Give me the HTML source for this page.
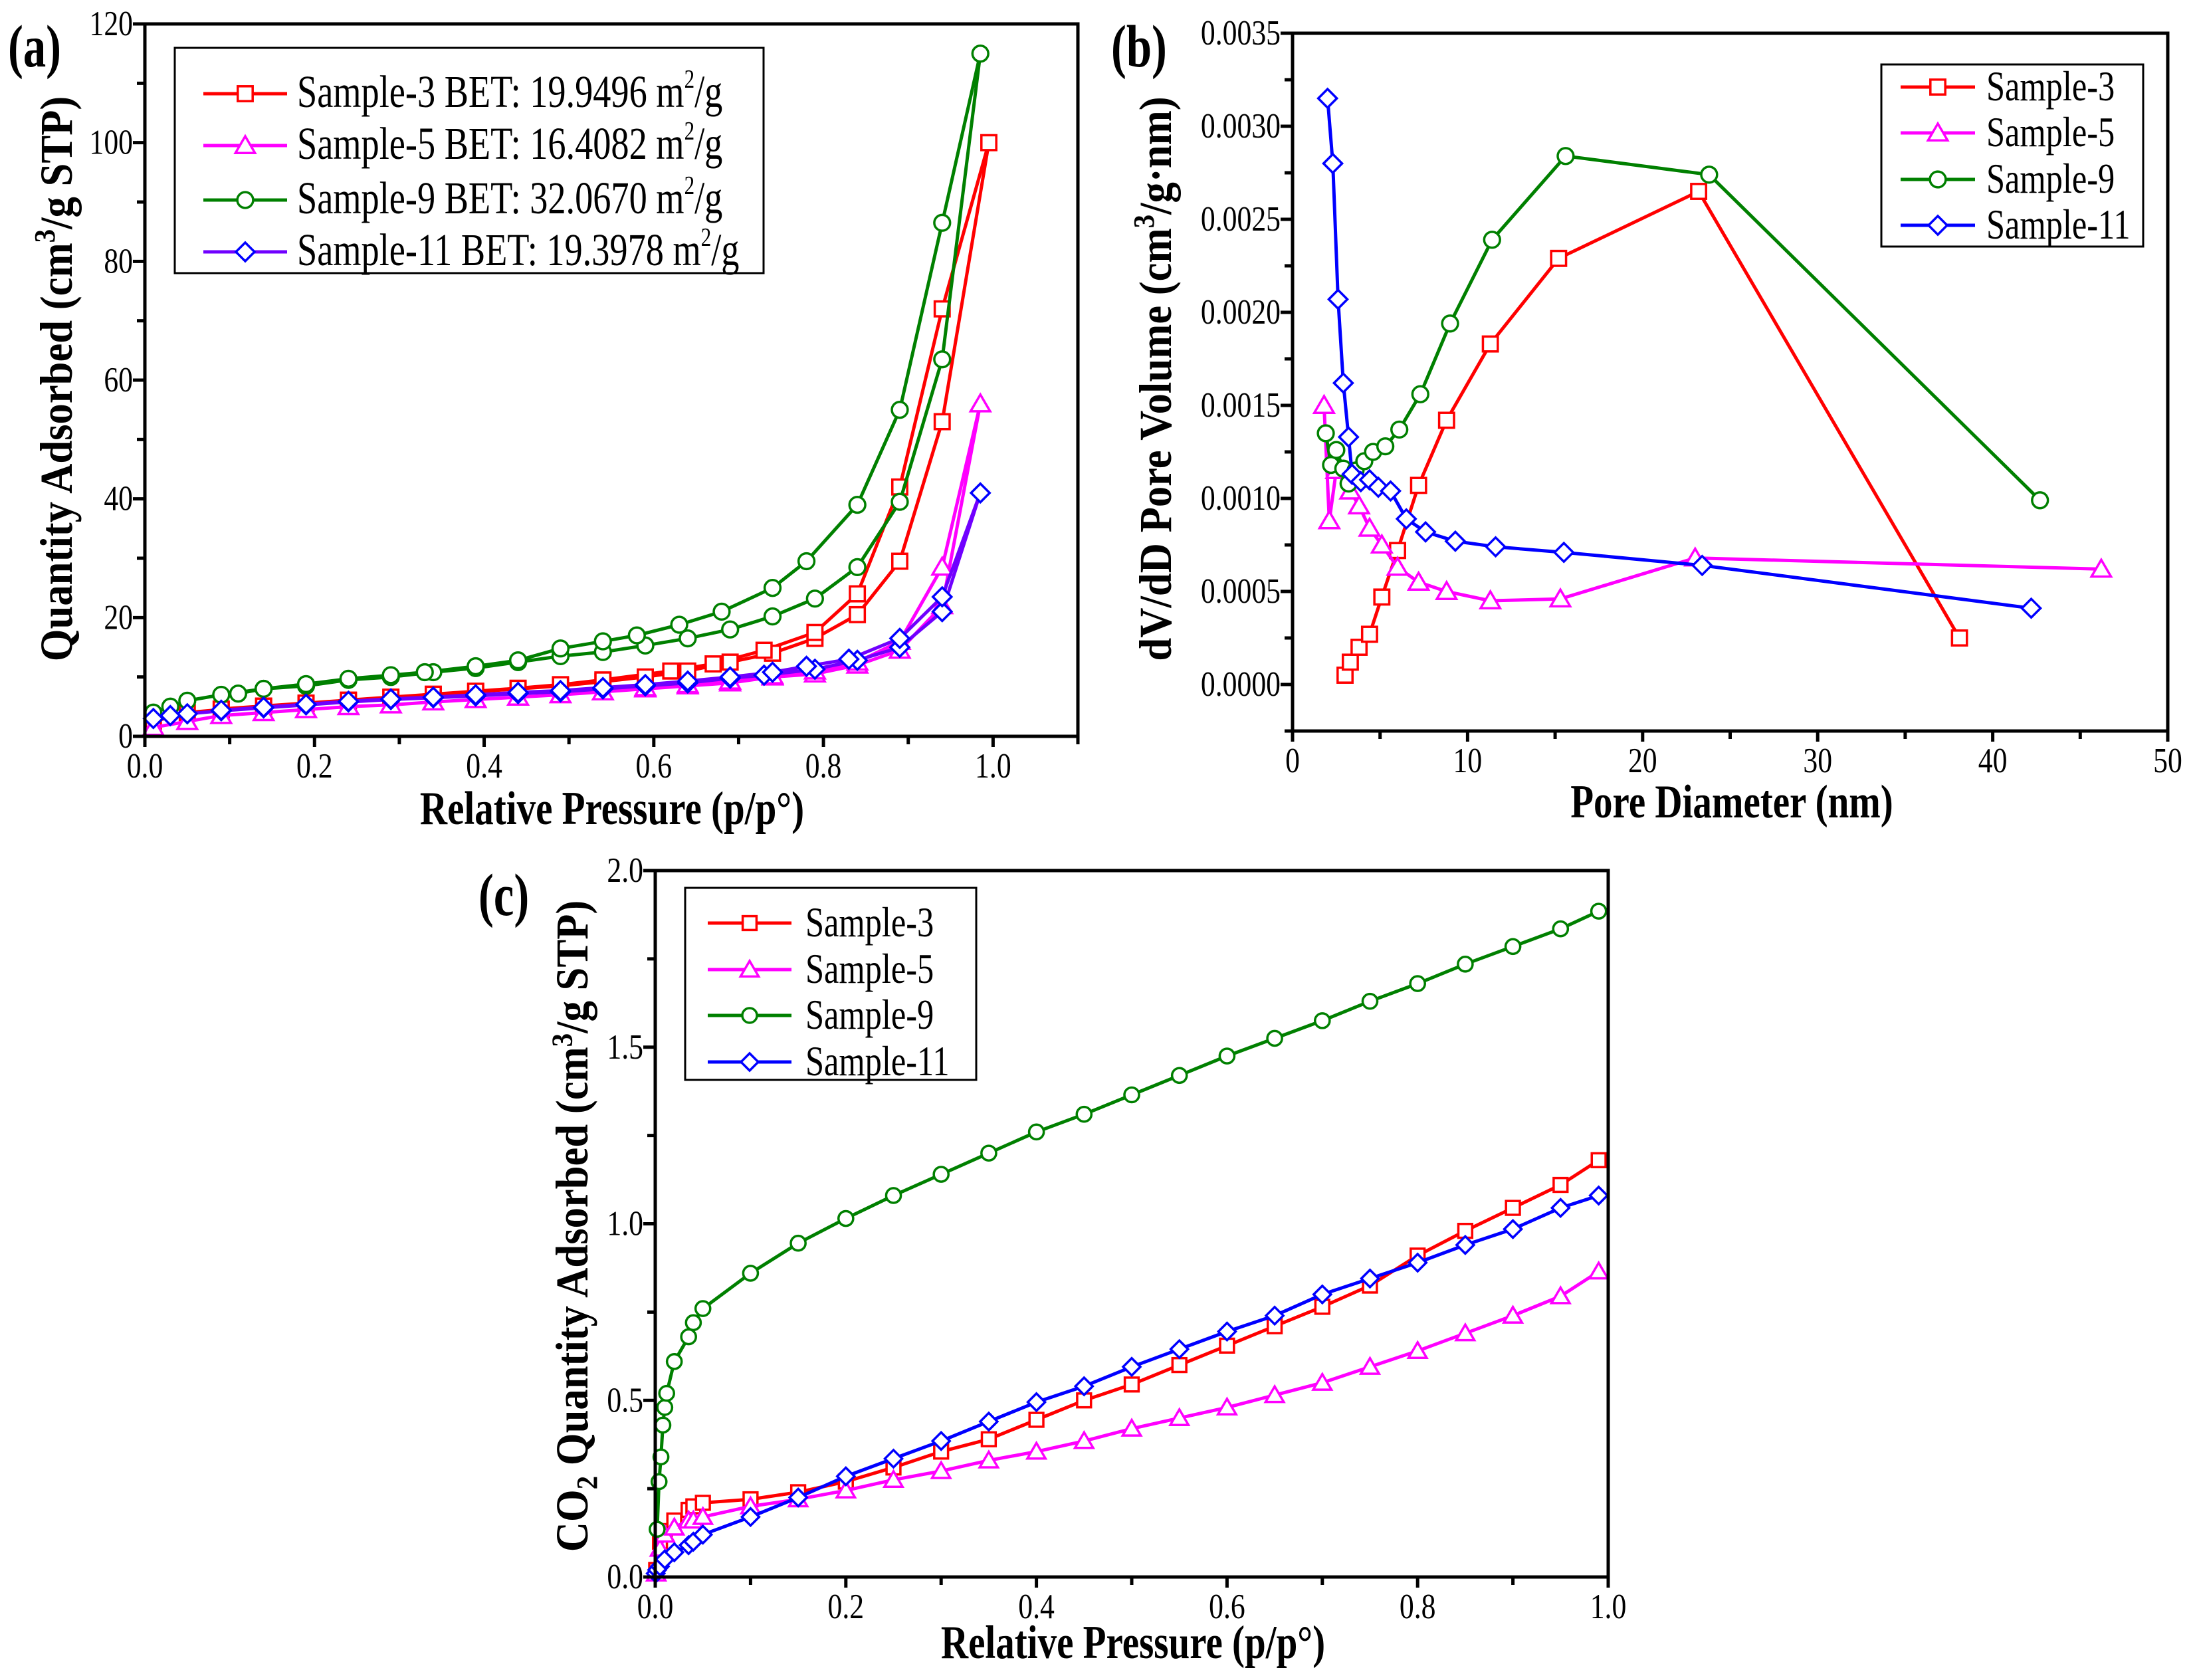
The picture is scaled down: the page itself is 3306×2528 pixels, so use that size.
<!DOCTYPE html>
<html><head><meta charset="utf-8">
<style>
html,body{margin:0;padding:0;background:#fff;}
svg{display:block;}
text{font-family:"Liberation Serif",serif;}
</style></head>
<body>
<svg id="fig" width="3306" height="2528" viewBox="0 0 3306 2528" xmlns="http://www.w3.org/2000/svg">
<rect width="3306" height="2528" fill="#fff"/>
</svg>
<script>
// ---------- Panel (a) data: N2 isotherms ----------
const aS3x=[0.01,0.05,0.09,0.14,0.19,0.24,0.29,0.34,0.39,0.44,0.49,0.54,0.59,0.64,0.69,0.74,0.79,0.84,0.89,0.94,0.995,0.94,0.89,0.84,0.79,0.73,0.67,0.62,0.54,0.49,0.44,0.39,0.34,0.29,0.24,0.19,0.14,0.09];
const aS3y=[2.5,4,4.5,5,5.5,6,6.5,7,7.5,8,8.5,9.2,10,11,12.5,14,16.5,20.5,29.5,53,100,72,42,24,17.5,14.5,12.2,11,9.5,8.7,8.1,7.6,7.1,6.6,6.1,5.6,5.1,4.6];
const aS5x=[0.01,0.05,0.09,0.14,0.19,0.24,0.29,0.34,0.39,0.44,0.49,0.54,0.59,0.64,0.69,0.74,0.79,0.84,0.89,0.94,0.985,0.94,0.89,0.84,0.79,0.74,0.69,0.64,0.59];
const aS5y=[1.5,2.5,3.5,4,4.5,5,5.3,5.8,6.2,6.6,7,7.5,8,8.5,9,10,10.5,12,14.5,22,56,28.5,16,12.5,11,10.2,9.3,8.7,8.2];
const aS9x=[0.01,0.03,0.05,0.09,0.14,0.19,0.24,0.29,0.34,0.39,0.44,0.49,0.54,0.59,0.64,0.69,0.74,0.79,0.84,0.89,0.94,0.985,0.94,0.89,0.84,0.78,0.74,0.68,0.63,0.58,0.54,0.49,0.44,0.39,0.33,0.29,0.24,0.19,0.14,0.11];
const aS9y=[4,5,6,7,8,8.5,9.5,10,10.8,11.5,12.5,13.5,14.2,15.3,16.5,18,20.2,23.2,28.5,39.5,63.5,115,86.5,55,39,29.5,25,21,18.8,17,16,14.8,12.8,11.8,10.8,10.3,9.7,8.8,8,7.2];
const aS11x=[0.01,0.03,0.05,0.09,0.14,0.19,0.24,0.29,0.34,0.39,0.44,0.49,0.54,0.59,0.64,0.69,0.73,0.79,0.84,0.89,0.94,0.985,0.94,0.89,0.83,0.78,0.74,0.69,0.64,0.59,0.54,0.49,0.44,0.39,0.34,0.29,0.24,0.19,0.14,0.09];
const aS11y=[3,3.5,3.8,4.3,4.8,5.3,5.8,6.2,6.5,6.8,7.2,7.5,8,8.5,9,9.8,10.3,11.3,12.8,15,21,41,23.5,16.5,13,11.8,10.8,10,9.3,8.7,8.2,7.7,7.4,7,6.6,6.3,5.9,5.4,4.9,4.4];
const aXTicks=["0.0","0.2","0.4","0.6","0.8","1.0"];
const aYTicks=["0","20","40","60","80","100","120"];
// ---------- Panel (b) data: pore size distribution ----------
const bS3x=[3,3.3,3.8,4.4,5.1,6,7.2,8.8,11.3,15.2,23.2,38.1];
const bS3y=[0.00005,0.00012,0.0002,0.00027,0.00047,0.00072,0.00107,0.00142,0.00183,0.00229,0.00265,0.00025];
const bS5x=[1.8,2.1,2.5,3.3,3.8,4.4,5.1,6,7.2,8.8,11.3,15.3,23,46.2];
const bS5y=[0.0015,0.00088,0.00115,0.00104,0.00096,0.00084,0.00075,0.00063,0.00055,0.0005,0.00045,0.00046,0.00068,0.00062];
const bS9x=[1.9,2.2,2.5,2.9,3.2,3.6,4.1,4.6,5.3,6.1,7.3,9,11.4,15.6,23.8,42.7];
const bS9y=[0.00135,0.00118,0.00126,0.00116,0.00108,0.00115,0.0012,0.00125,0.00128,0.00137,0.00156,0.00194,0.00239,0.00284,0.00274,0.00099];
const bS11x=[2,2.3,2.6,2.9,3.2,3.4,3.9,4.4,4.9,5.6,6.5,7.6,9.3,11.6,15.5,23.4,42.2];
const bS11y=[0.00315,0.0028,0.00207,0.00162,0.00133,0.00113,0.00109,0.0011,0.00106,0.00104,0.00089,0.00082,0.00077,0.00074,0.00071,0.00064,0.00041];
const bXTicks=["0","10","20","30","40","50"];
const bYTicks=["0.0000","0.0005","0.0010","0.0015","0.0020","0.0025","0.0030","0.0035"];
// ---------- Panel (c) data: CO2 isotherms ----------
const cS3x=[0.001,0.005,0.01,0.02,0.035,0.04,0.05,0.1,0.15,0.2,0.25,0.3,0.35,0.4,0.45,0.5,0.55,0.6,0.65,0.7,0.75,0.8,0.85,0.9,0.95,0.99];
const cS3y=[0.02,0.1,0.13,0.16,0.19,0.2,0.21,0.22,0.24,0.27,0.31,0.355,0.39,0.445,0.5,0.545,0.6,0.655,0.71,0.765,0.825,0.91,0.98,1.045,1.11,1.18];
const cS5x=[0.001,0.005,0.01,0.02,0.035,0.04,0.05,0.1,0.15,0.2,0.25,0.3,0.35,0.4,0.45,0.5,0.55,0.6,0.65,0.7,0.75,0.8,0.85,0.9,0.95,0.99];
const cS5y=[0.01,0.08,0.12,0.14,0.16,0.16,0.17,0.2,0.22,0.245,0.275,0.3,0.33,0.355,0.385,0.42,0.45,0.48,0.515,0.55,0.595,0.64,0.69,0.74,0.795,0.865];
const cS9x=[0.002,0.004,0.006,0.008,0.01,0.012,0.02,0.035,0.04,0.05,0.1,0.15,0.2,0.25,0.3,0.35,0.4,0.45,0.5,0.55,0.6,0.65,0.7,0.75,0.8,0.85,0.9,0.95,0.99];
const cS9y=[0.135,0.27,0.34,0.43,0.48,0.52,0.61,0.68,0.72,0.76,0.86,0.945,1.015,1.08,1.14,1.2,1.26,1.31,1.365,1.42,1.475,1.525,1.575,1.63,1.68,1.735,1.785,1.835,1.885];
const cS11x=[0.0005,0.002,0.005,0.01,0.02,0.035,0.04,0.05,0.1,0.15,0.2,0.25,0.3,0.35,0.4,0.45,0.5,0.55,0.6,0.65,0.7,0.75,0.8,0.85,0.9,0.95,0.99];
const cS11y=[0.01,0.02,0.03,0.05,0.07,0.09,0.1,0.12,0.17,0.225,0.285,0.335,0.385,0.44,0.495,0.54,0.595,0.645,0.695,0.74,0.8,0.845,0.89,0.94,0.985,1.045,1.08];
const cXTicks=["0.0","0.2","0.4","0.6","0.8","1.0"];
const cYTicks=["0.0","0.5","1.0","1.5","2.0"];

const NS="http://www.w3.org/2000/svg";
const svg=document.getElementById('fig');
function mk(tag,attrs,parent){const e=document.createElementNS(NS,tag);for(const k in attrs)e.setAttribute(k,attrs[k]);(parent||svg).appendChild(e);return e;}
function txt(parent,x,y,size,opts,sx,sy,rot){
  let tr=`translate(${x},${y})`+(rot?` rotate(${rot})`:'')+` scale(${sx},${sy})`;
  const a={x:0,y:0,'font-size':size,transform:tr};
  for(const k in opts)a[k]=opts[k];
  return mk('text',a,parent);
}

function marker(g,type,x,y,color,s){
  let e;
  if(type==='sq') e=mk('rect',{x:x-s*0.8,y:y-s*0.8,width:s*1.6,height:s*1.6,fill:'#fff',stroke:color,'stroke-width':3.5},g);
  else if(type==='tri') e=mk('polygon',{points:`${x},${y-s} ${x-s*1.05},${y+s*0.8} ${x+s*1.05},${y+s*0.8}`,fill:'#fff',stroke:color,'stroke-width':3.5},g);
  else if(type==='ci') e=mk('circle',{cx:x,cy:y,r:s*0.85,fill:'#fff',stroke:color,'stroke-width':3.5},g);
  else e=mk('polygon',{points:`${x},${y-s} ${x+s},${y} ${x},${y+s} ${x-s},${y}`,fill:'#fff',stroke:color,'stroke-width':3.5},g);
  
  
}

function panel(o){
  const g=mk('g',{});
  
  
  const X=v=>o.L+(v-o.xmin)/(o.xmax-o.xmin)*(o.R-o.L);
  const Y=v=>o.B-(v-o.ymin)/(o.ymax-o.ymin)*(o.B-o.T);
  o.series.forEach(s=>{
    const sg=mk('g',{},g);
    
    
    const pts=s.x.map((v,i)=>X(v).toFixed(1)+','+Y(s.y[i]).toFixed(1)).join(' ');
    const pl=mk('polyline',{points:pts,fill:'none',stroke:s.line||s.color,'stroke-width':5,'stroke-linejoin':'round'},sg);
    
    
    s.x.forEach((v,i)=>marker(sg,s.m,X(v),Y(s.y[i]),s.color,o.ms));
  });
  const fr=mk('rect',{x:o.L,y:o.T,width:o.R-o.L,height:o.B-o.T,fill:'none',stroke:'#000','stroke-width':5},g);
  
  
  for(let v=o.xmin;v<=o.xmax+1e-9;v+=o.xminor){
    const major=Math.abs(Math.round((v-o.xt0)/o.xmajor)*o.xmajor-(v-o.xt0))<1e-9;
    mk('line',{x1:X(v),x2:X(v),y1:o.B,y2:o.B+(major?16:12),stroke:'#000','stroke-width':5},g);
  }
  o.xticks.forEach((t,i)=>{
    const v=o.xt0+i*o.xmajor;
    const e=txt(g,X(v),o.B+62,46,{'text-anchor':'middle'},0.95,1.15);
    e.textContent=t;
    
    
  });
  for(let v=o.ymin;v<=o.ymax+1e-12;v+=o.yminor){
    const major=Math.abs(Math.round((v-o.yt0)/o.ymajor)*o.ymajor-(v-o.yt0))<1e-9*o.ymajor*1000;
    mk('line',{x1:o.L,x2:o.L-(major?18:12),y1:Y(v),y2:Y(v),stroke:'#000','stroke-width':5},g);
  }
  o.yticks.forEach((t,i)=>{
    const v=o.yt0+i*o.ymajor;
    const e=txt(g,o.L-18,Y(v)+17,46,{'text-anchor':'end'},0.95,1.15);
    e.textContent=t;
    
    
  });
  const xt=txt(g,o.xtx,o.xty,62,{'font-weight':'bold','text-anchor':'middle'},0.92,1.15);
  xt.textContent=o.xtitle;
  
  
  const yt=txt(g,o.ytx,o.yty,58,{'font-weight':'bold','text-anchor':'middle'},1.08,1.18,-90);
  yt.innerHTML=o.ytitle;
  
  
  const pl=txt(g,o.plx,o.ply,78,{'font-weight':'bold'},0.88,1.15);
  pl.textContent=o.label;
  
  
  const lg=mk('g',{},g);
  
  
  const lb=o.leg;
  mk('rect',{x:lb.x,y:lb.y,width:lb.w,height:lb.h,fill:'#fff',stroke:'#000','stroke-width':3},lg);
  o.series.forEach((s,i)=>{
    const ey=lb.rows[i];
    const eg=mk('g',{},lg);
    
    
    mk('line',{x1:lb.l1,x2:lb.l2,y1:ey,y2:ey,stroke:s.line||s.color,'stroke-width':5},eg);
    marker(eg,s.m,(lb.l1+lb.l2)/2,ey,s.color,o.ms);
    const t=txt(eg,lb.tx,ey+20,lb.fs,{},0.97,1.22);
    t.innerHTML=s.label;
  });
}

const sup='<tspan font-size="32" dy="-24">2</tspan><tspan dy="24">/g</tspan>';
panel({name:'panel-a',L:218,R:1622,T:36,B:1108,xmin:0,xmax:1.1,ymin:0,ymax:120,
  xminor:0.1,xmajor:0.2,xt0:0,yminor:10,ymajor:20,yt0:0,xticks:aXTicks,yticks:aYTicks,ms:14,
  xtitle:'Relative Pressure (p/p°)',xtx:921,xty:1240,
  ytitle:'Quantity Adsorbed (cm<tspan font-size="38" dy="-22">3</tspan><tspan dy="22">/g STP)</tspan>',ytx:108,yty:570,
  label:'(a)',plx:12,ply:100,
  leg:{x:263,y:72,w:886,h:339,rows:[141,219,301,379],l1:306,l2:432,tx:447,fs:56},
  series:[
   {name:'sample-3',label:'Sample-3 BET: 19.9496 m'+sup,x:aS3x,y:aS3y,color:'#ff0000',m:'sq'},
   {name:'sample-5',label:'Sample-5 BET: 16.4082 m'+sup,x:aS5x,y:aS5y,color:'#ff00ff',m:'tri'},
   {name:'sample-9',label:'Sample-9 BET: 32.0670 m'+sup,x:aS9x,y:aS9y,color:'#008000',m:'ci'},
   {name:'sample-11',label:'Sample-11 BET: 19.3978 m'+sup,x:aS11x,y:aS11y,color:'#0000ff',line:'#7000ff',m:'di'}]});

panel({name:'panel-b',L:1945,R:3262,T:50,B:1100,xmin:0,xmax:50,ymin:-0.00025,ymax:0.0035,
  xminor:5,xmajor:10,xt0:0,yminor:0.00025,ymajor:0.0005,yt0:0,xticks:bXTicks,yticks:bYTicks,ms:14,
  xtitle:'Pore Diameter (nm)',xtx:2606,xty:1230,
  ytitle:'dV/dD Pore Volume (cm<tspan font-size="38" dy="-22">3</tspan><tspan dy="22">/g·nm)</tspan>',ytx:1762,yty:570,
  label:'(b)',plx:1672,ply:100,
  leg:{x:2831,y:97,w:394,h:274,rows:[131,200,270,339],l1:2860,l2:2972,tx:2989,fs:52},
  series:[
   {name:'sample-3',label:'Sample-3',x:bS3x,y:bS3y,color:'#ff0000',m:'sq'},
   {name:'sample-5',label:'Sample-5',x:bS5x,y:bS5y,color:'#ff00ff',m:'tri'},
   {name:'sample-9',label:'Sample-9',x:bS9x,y:bS9y,color:'#008000',m:'ci'},
   {name:'sample-11',label:'Sample-11',x:bS11x,y:bS11y,color:'#0000ff',m:'di'}]});

panel({name:'panel-c',L:986,R:2420,T:1310,B:2373,xmin:0,xmax:1,ymin:0,ymax:2,
  xminor:0.1,xmajor:0.2,xt0:0,yminor:0.25,ymajor:0.5,yt0:0,xticks:cXTicks,yticks:cYTicks,ms:13,
  xtitle:'Relative Pressure (p/p°)',xtx:1705,xty:2495,
  ytitle:'CO<tspan font-size="38" dy="12">2</tspan><tspan dy="-12"> Quantity Adsorbed (cm</tspan><tspan font-size="38" dy="-20">3</tspan><tspan dy="20">/g STP)</tspan>',ytx:884,yty:1845,
  label:'(c)',plx:720,ply:1377,
  leg:{x:1031,y:1336,w:438,h:289,rows:[1389,1459,1528,1598],l1:1065,l2:1191,tx:1212,fs:52},
  series:[
   {name:'sample-3',label:'Sample-3',x:cS3x,y:cS3y,color:'#ff0000',m:'sq'},
   {name:'sample-5',label:'Sample-5',x:cS5x,y:cS5y,color:'#ff00ff',m:'tri'},
   {name:'sample-9',label:'Sample-9',x:cS9x,y:cS9y,color:'#008000',m:'ci'},
   {name:'sample-11',label:'Sample-11',x:cS11x,y:cS11y,color:'#0000ff',m:'di'}]});
</script>
</body></html>
